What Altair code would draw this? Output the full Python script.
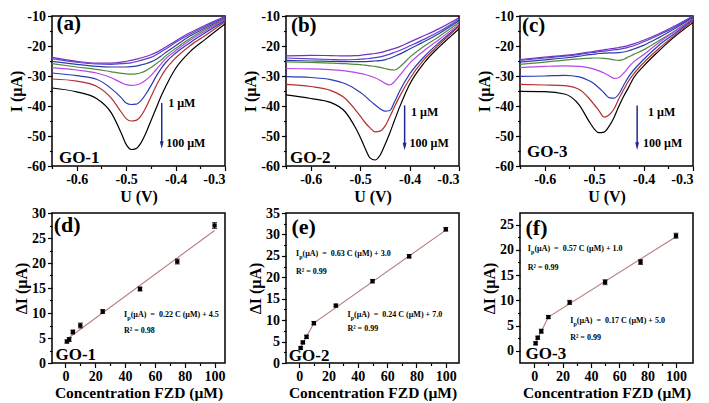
import altair as alt
import pandas as pd

FONT = "Liberation Serif"
NAVY = "#1f2a8f"
FIT_COLOR = "#b97c7c"

# ---------------- top row: DPV curves ----------------
U = [-0.65, -0.60, -0.56, -0.53, -0.51, -0.50, -0.49, -0.48, -0.47, -0.46,
     -0.45, -0.44, -0.43, -0.42, -0.40, -0.37, -0.34, -0.30]
CONC = ["1 µM", "2.5 µM", "5 µM", "10 µM", "25 µM", "50 µM", "75 µM", "100 µM"]
LINE_COLORS = ["#7a2fc0", "#5b3fd0", "#2a3f9f", "#4f8a38", "#b845e8", "#2b3bb5", "#b03030", "#000000"]

GO1_1 = [-23.8, -25.1, -25.7, -25.7, -25.4, -25.1, -24.8, -24.4, -24.0, -23.5, -22.9, -22.2, -21.3, -20.3, -18.3, -15.5, -13.1, -10.2]
GO1_2_5 = [-24.2, -25.4, -26.0, -26.1, -25.9, -25.8, -25.6, -25.2, -24.8, -24.3, -23.8, -23.0, -22.0, -21.0, -18.8, -16.0, -13.5, -10.5]
GO1_5 = [-25.1, -26.1, -26.8, -27.0, -27.0, -27.0, -26.9, -26.7, -26.3, -25.9, -25.3, -24.5, -23.4, -22.2, -19.9, -16.6, -14.0, -10.9]
GO1_10 = [-25.9, -27.0, -27.8, -28.6, -29.1, -29.3, -29.4, -29.3, -28.9, -28.2, -27.2, -26.0, -24.8, -23.3, -20.8, -17.4, -14.5, -11.1]
GO1_25 = [-27.2, -28.0, -29.0, -30.6, -32.2, -32.9, -33.1, -33.0, -32.4, -31.3, -29.9, -28.0, -26.1, -24.2, -21.6, -18.0, -15.0, -11.3]
GO1_50 = [-29.0, -29.9, -31.1, -34.2, -37.2, -39.0, -39.5, -39.4, -38.2, -36.0, -33.3, -30.3, -27.7, -25.5, -22.4, -18.8, -15.6, -11.6]
GO1_75 = [-31.0, -31.7, -33.4, -37.4, -42.0, -44.2, -45.0, -44.8, -43.3, -40.5, -37.0, -33.5, -30.4, -27.8, -24.0, -19.8, -16.5, -11.9]
GO1_100 = [-34.0, -35.3, -37.5, -42.3, -49.0, -52.8, -54.5, -54.2, -52.3, -49.0, -45.0, -41.0, -37.0, -33.5, -27.5, -21.8, -17.8, -12.7]

GO2_1 = [-23.3, -23.1, -23.2, -23.3, -23.2, -23.1, -22.9, -22.7, -22.5, -22.2, -21.8, -21.3, -20.8, -20.2, -18.7, -16.5, -14.2, -10.6]
GO2_2_5 = [-24.0, -24.3, -24.5, -24.6, -24.5, -24.4, -24.3, -24.1, -23.9, -23.6, -23.2, -22.7, -22.1, -21.5, -20.0, -17.7, -15.2, -11.1]
GO2_5 = [-24.8, -25.0, -25.1, -25.2, -25.2, -25.2, -25.2, -25.1, -25.0, -24.9, -24.6, -24.1, -23.4, -22.7, -21.0, -18.5, -15.8, -11.6]
GO2_10 = [-25.3, -25.5, -25.7, -25.9, -26.1, -26.2, -26.4, -26.6, -26.8, -27.1, -27.5, -27.9, -28.0, -27.0, -23.8, -20.0, -16.8, -12.2]
GO2_25 = [-27.5, -27.6, -27.9, -28.3, -28.8, -29.1, -29.5, -30.0, -30.6, -31.4, -32.4, -33.0, -31.8, -29.8, -25.8, -21.5, -17.8, -12.7]
GO2_50 = [-30.2, -30.5, -31.2, -32.6, -34.3, -35.4, -36.7, -38.2, -39.6, -40.9, -41.7, -41.5, -38.5, -35.0, -29.4, -23.5, -18.8, -13.2]
GO2_75 = [-32.8, -33.5, -34.8, -37.5, -41.2, -43.3, -45.5, -47.3, -48.6, -48.4, -46.8, -43.6, -40.1, -36.8, -31.0, -24.4, -19.5, -13.5]
GO2_100 = [-36.3, -37.5, -38.8, -42.0, -47.1, -50.3, -54.1, -57.3, -58.0, -56.5, -53.0, -49.0, -44.6, -40.3, -32.8, -25.5, -20.3, -14.3]

GO3_1 = [-24.5, -23.7, -23.1, -22.5, -22.0, -21.8, -21.5, -21.3, -21.0, -20.8, -20.5, -20.2, -19.8, -19.3, -18.1, -16.0, -13.6, -10.0]
GO3_2_5 = [-24.8, -24.0, -23.4, -22.8, -22.3, -22.1, -21.9, -21.7, -21.5, -21.3, -21.1, -20.8, -20.4, -19.9, -18.6, -16.4, -14.0, -10.2]
GO3_5 = [-25.4, -24.6, -24.0, -23.4, -22.9, -22.7, -22.5, -22.4, -22.3, -22.3, -22.2, -22.0, -21.6, -21.0, -19.8, -17.3, -14.5, -10.5]
GO3_10 = [-26.1, -25.4, -24.7, -24.3, -24.1, -24.0, -24.0, -24.1, -24.3, -24.6, -24.8, -24.4, -23.6, -22.8, -21.3, -18.3, -15.3, -10.9]
GO3_25 = [-27.2, -26.8, -26.6, -26.8, -27.3, -27.7, -28.3, -29.0, -29.9, -30.8, -30.5, -29.0, -27.0, -25.3, -22.9, -19.0, -15.5, -11.1]
GO3_50 = [-30.1, -30.0, -29.8, -30.3, -31.6, -32.6, -34.0, -35.6, -37.2, -37.4, -36.0, -33.0, -30.2, -28.0, -24.5, -19.9, -16.2, -11.3]
GO3_75 = [-32.8, -33.0, -33.2, -34.5, -37.5, -39.5, -41.6, -43.7, -43.0, -41.0, -37.6, -34.5, -31.6, -29.3, -25.6, -21.0, -16.8, -11.6]
GO3_100 = [-35.1, -35.2, -36.0, -39.7, -45.2, -47.6, -48.9, -48.7, -46.8, -43.9, -40.1, -36.7, -33.7, -30.6, -26.7, -21.8, -17.3, -12.2]

TOP_XTICKS = [-0.65, -0.6, -0.55, -0.5, -0.45, -0.4, -0.35, -0.3]
TOP_YTICKS = [-60, -55, -50, -45, -40, -35, -30, -25, -20, -15, -10]
TOP_TAGS = ["(a)", "(b)", "(c)"]
TOP_NAMES = ["GO-1", "GO-2", "GO-3"]
TOP_TAG_X = [-0.641, -0.640, -0.646]
TOP_TAG_Y = [-12.7, -13.2, -13.2]
TOP_NAME_X = [-0.636, -0.642, -0.636]
TOP_NAME_Y = [-57.3, -57.3, -55.2]
ARROW_X = [-0.428, -0.410, -0.413]
ARROW_Y0 = [-39.0, -39.8, -39.8]
ARROW_Y1 = [-53.0, -53.5, -53.4]
LOW_LABEL_X = [-0.415, -0.397, -0.391]
LOW_LABEL_Y = [-39.0, -42.0, -42.0]
HIGH_LABEL_X = [-0.419, -0.400, -0.401]
HIGH_LABEL_Y = [-52.2, -52.2, -52.2]

# ---------------- bottom row: calibration ----------------
C = [1, 2.5, 5, 10, 25, 50, 75, 100]
GO1_dI = [4.3, 4.7, 6.2, 7.5, 10.3, 14.8, 20.3, 27.5]
GO1_err = [0.3, 0.4, 0.4, 0.5, 0.4, 0.4, 0.5, 0.6]
GO2_dI = [3.5, 4.8, 6.1, 9.3, 13.4, 19.1, 24.9, 31.2]
GO2_err = [0.3, 0.3, 0.4, 0.4, 0.3, 0.4, 0.4, 0.4]
GO3_dI = [1.5, 2.6, 3.9, 6.7, 9.6, 13.6, 17.6, 22.8]
GO3_err = [0.3, 0.3, 0.4, 0.3, 0.4, 0.5, 0.5, 0.5]

GO1_FIT_X = [2.5, 100]
GO1_FIT_Y = [5.1, 26.5]
GO2_FIT_X = [1, 10, 100]
GO2_FIT_Y = [3.6, 9.3, 31.0]
GO3_FIT_X = [1, 10, 100]
GO3_FIT_Y = [1.6, 6.7, 22.6]

BOT_XTICKS = [0, 10, 20, 30, 40, 50, 60, 70, 80, 90, 100]
BOT_TAGS = ["(d)", "(e)", "(f)"]
BOT_NAMES = ["GO-1", "GO-2", "GO-3"]
BOT_XDOM = [[-9, 107], [-9, 109], [-10, 112]]
BOT_YDOM = [[0, 30], [0, 35], [-2.4, 27.3]]
BOT_YTICKS = [
    [0, 2.5, 5, 7.5, 10, 12.5, 15, 17.5, 20, 22.5, 25, 27.5, 30],
    [0, 2.5, 5, 7.5, 10, 12.5, 15, 17.5, 20, 22.5, 25, 27.5, 30, 32.5, 35],
    [-2.5, 0, 2.5, 5, 7.5, 10, 12.5, 15, 17.5, 20, 22.5, 25],
]
BOT_TAG_X = [-7.8, -5.3, -6.1]
BOT_TAG_Y = [27.7, 31.8, 24.3]
BOT_NAME_X = [-6.7, -7.1, -6.1]
BOT_NAME_Y = [1.65, 1.65, -0.66]

GO1_EQ_X = [39.3]
GO1_EQ_Y = [9.7]
GO1_EQ_R2Y = [6.4]
GO1_EQ_TXT = ["0.22 C (µM) + 4.5"]
GO1_EQ_R2 = ["0.98"]
GO2_EQ_X = [-2.2, 32.9]
GO2_EQ_Y = [25.4, 11.2]
GO2_EQ_R2Y = [21.3, 7.9]
GO2_EQ_TXT = ["0.63 C (µM) + 3.0", "0.24 C (µM) + 7.0"]
GO2_EQ_R2 = ["0.99", "0.99"]
GO3_EQ_X = [-4.5, 25.4]
GO3_EQ_Y = [20.1, 5.9]
GO3_EQ_R2Y = [16.4, 2.6]
GO3_EQ_TXT = ["0.57 C (µM) + 1.0", "0.17 C (µM) + 5.0"]
GO3_EQ_R2 = ["0.99", "0.99"]

W, H1, H2 = 173, 150, 150
NB = "\u00a0"
MINUS = "replace(datum.label, '\u2212', '-')"


def axis(values, major_test, title, fmt, **kw):
    return alt.Axis(
        values=values, format=fmt, title=title,
        labelExpr=f"({major_test}) ? {MINUS} : ''",
        tickSize={"condition": {"test": major_test, "value": 4.5}, "value": 2.5},
        **kw,
    )


def text_layer(df, xenc, yenc, size, align="left", dx=0, dy=0, color="black", field="t"):
    return alt.Chart(df).mark_text(
        align=align, baseline="middle", font=FONT, fontWeight="bold",
        fontSize=size, dx=dx, dy=dy, color=color
    ).encode(x=xenc("x"), y=yenc("y"), text=alt.Text(f"{field}:N"))


def top_panel(i, curves):
    xs = alt.Scale(domain=[-0.65, -0.3], nice=False, zero=False)
    ys = alt.Scale(domain=[-60, -10], nice=False, zero=False)
    xax = axis(TOP_XTICKS, "abs(datum.value * 10 - round(datum.value * 10)) < 0.01", "U (V)", ".1f")
    yax = axis(TOP_YTICKS, "datum.value % 10 == 0", "I (µA)", "d")

    def xe(f):
        return alt.X(f, type="quantitative", scale=xs, axis=xax)

    def ye(f):
        return alt.Y(f, type="quantitative", scale=ys, axis=yax)

    rows = []
    for k, (name, vals) in enumerate(zip(CONC, curves)):
        for u, v in zip(U, vals):
            rows.append({"x": u, "y": v, "c": name, "k": k})
    df = pd.DataFrame(rows)
    lines = alt.Chart(df).mark_line(strokeWidth=1.2, interpolate="monotone", clip=True).encode(
        x=xe("x"), y=ye("y"),
        color=alt.Color("c:N", scale=alt.Scale(domain=CONC, range=LINE_COLORS), legend=None),
        detail="k:N",
    )
    arr = pd.DataFrame({"x": [ARROW_X[i]], "y": [ARROW_Y0[i]], "y1": [ARROW_Y1[i]]})
    rule = alt.Chart(arr).mark_rule(color=NAVY, strokeWidth=1.5).encode(
        x=xe("x"), y=ye("y"), y2=alt.Y2("y1"))
    head = alt.Chart(arr).mark_point(
        shape="M-0.5,-1L0.5,-1L0,1Z", filled=True, size=60, color=NAVY, opacity=1
    ).encode(x=xe("x"), y=ye("y1"))
    low = pd.DataFrame({"x": [LOW_LABEL_X[i]], "y": [LOW_LABEL_Y[i]], "t": ["1 µM"]})
    high = pd.DataFrame({"x": [HIGH_LABEL_X[i]], "y": [HIGH_LABEL_Y[i]], "t": ["100 µM"]})
    tag = pd.DataFrame({"x": [TOP_TAG_X[i]], "y": [TOP_TAG_Y[i]], "t": [TOP_TAGS[i]]})
    nm = pd.DataFrame({"x": [TOP_NAME_X[i]], "y": [TOP_NAME_Y[i]], "t": [TOP_NAMES[i]]})
    return alt.layer(
        lines, rule, head,
        text_layer(low, xe, ye, 12),
        text_layer(high, xe, ye, 12),
        text_layer(tag, xe, ye, 21),
        text_layer(nm, xe, ye, 17),
    ).properties(width=W, height=H1)


def bottom_panel(i, dI, err, fx, fy, ex, ey, er2y, etxt, er2):
    xs = alt.Scale(domain=BOT_XDOM[i], nice=False, zero=False)
    ys = alt.Scale(domain=BOT_YDOM[i], nice=False, zero=False)
    xax = axis(BOT_XTICKS, "datum.value % 20 == 0", "Concentration FZD (µM)", "d", titleFontSize=15.5)
    yax = axis(BOT_YTICKS[i], "datum.value % 5 == 0", "ΔI (µA)", "d")

    def xe(f):
        return alt.X(f, type="quantitative", scale=xs, axis=xax)

    def ye(f):
        return alt.Y(f, type="quantitative", scale=ys, axis=yax)

    pts = pd.DataFrame({"x": C, "y": dI, "e": err})
    pts["lo"] = pts["y"] - pts["e"]
    pts["hi"] = pts["y"] + pts["e"]
    fit = pd.DataFrame({"x": fx, "y": fy})
    fitline = alt.Chart(fit).mark_line(color=FIT_COLOR, strokeWidth=1.1).encode(x=xe("x"), y=ye("y"))
    bars = alt.Chart(pts).mark_rule(color="black", strokeWidth=1).encode(
        x=xe("x"), y=ye("lo"), y2=alt.Y2("hi"))
    cap_lo = alt.Chart(pts).mark_tick(orient="horizontal", size=5, thickness=1, color="black").encode(
        x=xe("x"), y=ye("lo"))
    cap_hi = alt.Chart(pts).mark_tick(orient="horizontal", size=5, thickness=1, color="black").encode(
        x=xe("x"), y=ye("hi"))
    marks = alt.Chart(pts).mark_square(size=18, color="black", opacity=1).encode(x=xe("x"), y=ye("y"))

    eq = pd.DataFrame({"x": ex, "y": ey, "t": [f"(µA){NB}{NB}={NB}{NB}" + s for s in etxt]})
    eqI = pd.DataFrame({"x": ex, "y": ey, "t": ["I"] * len(ex)})
    eqP = pd.DataFrame({"x": ex, "y": ey, "t": ["p"] * len(ex)})
    r2 = pd.DataFrame({"x": ex, "y": er2y, "t": [f"R²{NB}={NB}" + s for s in er2]})
    tag = pd.DataFrame({"x": [BOT_TAG_X[i]], "y": [BOT_TAG_Y[i]], "t": [BOT_TAGS[i]]})
    nm = pd.DataFrame({"x": [BOT_NAME_X[i]], "y": [BOT_NAME_Y[i]], "t": [BOT_NAMES[i]]})
    return alt.layer(
        fitline, bars, cap_lo, cap_hi, marks,
        text_layer(eqI, xe, ye, 8),
        text_layer(eqP, xe, ye, 6, dx=3.2, dy=3),
        text_layer(eq, xe, ye, 8, dx=6.6),
        text_layer(r2, xe, ye, 8),
        text_layer(tag, xe, ye, 22),
        text_layer(nm, xe, ye, 17),
    ).properties(width=W, height=H2)


panels = [
    top_panel(0, [GO1_1, GO1_2_5, GO1_5, GO1_10, GO1_25, GO1_50, GO1_75, GO1_100]),
    top_panel(1, [GO2_1, GO2_2_5, GO2_5, GO2_10, GO2_25, GO2_50, GO2_75, GO2_100]),
    top_panel(2, [GO3_1, GO3_2_5, GO3_5, GO3_10, GO3_25, GO3_50, GO3_75, GO3_100]),
    bottom_panel(0, GO1_dI, GO1_err, GO1_FIT_X, GO1_FIT_Y, GO1_EQ_X, GO1_EQ_Y, GO1_EQ_R2Y, GO1_EQ_TXT, GO1_EQ_R2),
    bottom_panel(1, GO2_dI, GO2_err, GO2_FIT_X, GO2_FIT_Y, GO2_EQ_X, GO2_EQ_Y, GO2_EQ_R2Y, GO2_EQ_TXT, GO2_EQ_R2),
    bottom_panel(2, GO3_dI, GO3_err, GO3_FIT_X, GO3_FIT_Y, GO3_EQ_X, GO3_EQ_Y, GO3_EQ_R2Y, GO3_EQ_TXT, GO3_EQ_R2),
]

chart = alt.concat(
    *panels, columns=3, spacing={"row": 47, "column": 61}, bounds="flush"
).resolve_scale(
    x="independent", y="independent", color="independent"
).properties(
    padding=0, background="white"
).configure_axis(
    labelFont=FONT, labelFontWeight="bold", labelFontSize=14, labelColor="black",
    titleFont=FONT, titleFontWeight="bold", titleFontSize=16, titleColor="black",
    tickColor="black", tickWidth=1.2, domain=False, grid=False,
    labelPadding=2, titlePadding=2,
).configure_view(
    stroke="black", strokeWidth=1.5
)

chart.save("out.html", embed_options={"renderer": "svg", "actions": False})
